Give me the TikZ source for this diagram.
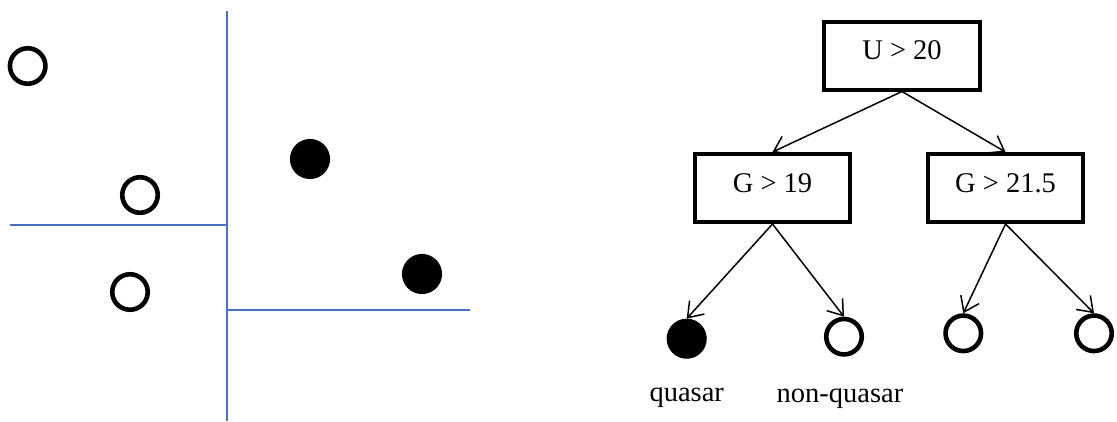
\documentclass[tikz,border=0pt]{standalone}
\usepackage{fontspec}
\setmainfont{Liberation Serif}
\usetikzlibrary{arrows.meta}
\definecolor{splitblue}{RGB}{68,114,196}
\begin{document}
\begin{tikzpicture}[x=1pt,y=-1pt,
  font=\fontsize{28.5}{34}\selectfont,
  split/.style={draw=splitblue,line width=2.2pt},
  opendot/.style={circle,draw=black,line width=4.6pt,minimum size=35.5pt,inner sep=0pt},
  filldot/.style={opendot,fill=black},
  testbox/.style={rectangle,draw=black,line width=4pt,minimum width=155.5pt,inner sep=0pt,anchor=base},
  conn/.style={draw=black,line width=1.5pt,-{Straight Barb[length=14pt,width=20pt]}},
  lbl/.style={anchor=base,inner sep=0pt}]
\useasboundingbox (0,0) rectangle (1117,421);
% left: feature space with splits
\coordinate (vtop) at (227,11);
\coordinate (vbot) at (227,421);
\coordinate (h1l) at (10,224.7);
\coordinate (h1r) at (227,224.7);
\coordinate (h2l) at (228,310);
\coordinate (h2r) at (470,310);
\draw[split] (vtop) -- (vbot);
\draw[split] (h1l) -- (h1r);
\draw[split] (h2l) -- (h2r);
\node[opendot] (p1) at (27.7,66) {};
\node[opendot] (p2) at (140,195) {};
\node[opendot] (p3) at (130,292) {};
\node[filldot] (p4) at (310,159) {};
\node[filldot] (p5) at (422,274) {};
% right: decision tree
\node[testbox,text height=37pt,text depth=30.5pt] (u) at (902,59) {U > 20};
\node[testbox,text height=38pt,text depth=30pt] (g1) at (772.5,192) {G > 19};
\node[testbox,text height=38pt,text depth=30pt] (g2) at (1005.5,192) {G > 21.5};
\node[filldot] (q) at (686.7,338.7) {};
\node[opendot] (nq) at (844,336.7) {};
\node[opendot] (l3) at (963.3,333.3) {};
\node[opendot] (l4) at (1094,333.3) {};
\draw[conn] (u.south) -- (g1.north);
\draw[conn] (u.south) -- (g2.north);
\draw[conn] (g1.south) -- (q.north);
\draw[conn] (g1.south) -- (nq.north);
\draw[conn] (g2.south) -- (l3.north);
\draw[conn] (g2.south) -- (l4.north);
\node[lbl] (ql) at (686.7,401.7) {quasar};
\node[lbl] (nql) at (840,402) {non-quasar};
\end{tikzpicture}
\end{document}
